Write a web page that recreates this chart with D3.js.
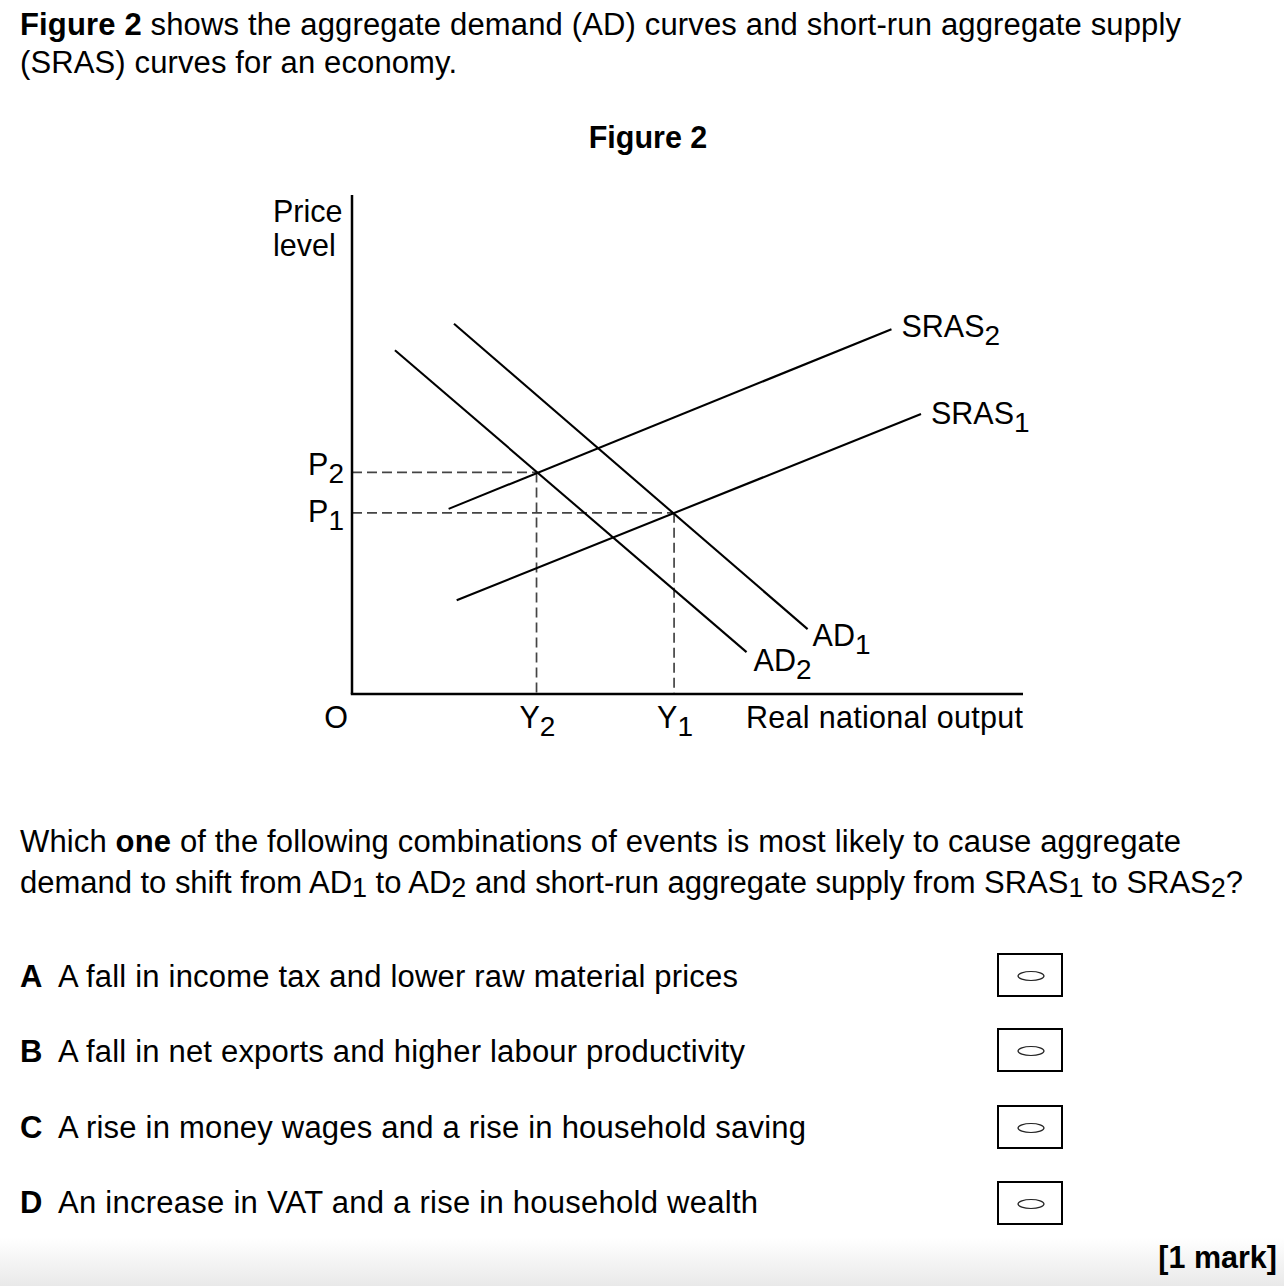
<!DOCTYPE html>
<html>
<head>
<meta charset="utf-8">
<script src="https://cdn.jsdelivr.net/npm/d3@7"></script>
<style>
  html, body { margin: 0; padding: 0; background: #fff; }
  svg { display: block; }
  text { font-family: "Liberation Sans", Arial, Helvetica, sans-serif; fill: #000; }
</style>
</head>
<body>
<script>
// ---------------- DATA ----------------
const curveNames = ["AD", "AD", "SRAS", "SRAS"];
const curveSubs  = ["1", "2", "1", "2"];
const curveX0 = [15.2, 6.4, 15.6, 14.4];
const curveY0 = [74.2, 68.9, 18.8, 37.1];
const curveX1 = [67.9, 58.8, 84.8, 80.4];
const curveY1 = [13.0, 8.4, 56.1, 73.1];

const priceNames  = ["P", "P"];
const priceSubs   = ["1", "2"];
const priceValues = [36.3, 44.4];

const outputNames  = ["Y", "Y"];
const outputSubs   = ["1", "2"];
const outputValues = [48.0, 27.5];

const yAxisTitle = ["Price", "level"];
const xAxisTitle = "Real national output";
const originLabel = "O";
const figureTitle = "Figure 2";

const optionLetters = ["A", "B", "C", "D"];
const optionTexts = [
  "A fall in income tax and lower raw material prices",
  "A fall in net exports and higher labour productivity",
  "A rise in money wages and a rise in household saving",
  "An increase in VAT and a rise in household wealth"
];

// ---------------- LAYOUT ----------------
const W = 1284, H = 1286;
const svg = d3.select("body").append("svg").attr("width", W).attr("height", H);

const defs = svg.append("defs");
const grad = defs.append("linearGradient").attr("id", "bottomGrad")
  .attr("x1", 0).attr("y1", 0).attr("x2", 0).attr("y2", 1);
grad.append("stop").attr("offset", "0%").attr("stop-color", "#ffffff");
grad.append("stop").attr("offset", "100%").attr("stop-color", "#e9e9e9");
svg.append("rect").attr("x", 0).attr("y", 1238).attr("width", W).attr("height", H - 1238)
  .attr("fill", "url(#bottomGrad)");

const FS = 31;

// Header text
const h1 = svg.append("text").attr("x", 20).attr("y", 35).attr("font-size", FS)
  .attr("textLength", 1161).attr("lengthAdjust", "spacing");
h1.append("tspan").attr("font-weight", "bold").text("Figure 2");
h1.append("tspan").text(" shows the aggregate demand (AD) curves and short-run aggregate supply");
svg.append("text").attr("x", 20).attr("y", 73).attr("font-size", FS)
  .attr("textLength", 437).attr("lengthAdjust", "spacing")
  .text("(SRAS) curves for an economy.");

svg.append("text").attr("x", 648).attr("y", 148).attr("font-size", 30.5)
  .attr("font-weight", "bold").attr("text-anchor", "middle")
  .text(figureTitle);

// ---------------- CHART ----------------
const x = d3.scaleLinear().domain([0, 100]).range([352, 1023]);
const y = d3.scaleLinear().domain([0, 100]).range([694, 195]);
const LFS = 30.5, SFS = 28;

// dashed guide lines
const g = svg.append("g");
priceValues.forEach((p, i) => {
  g.append("line")
    .attr("x1", x(0)).attr("x2", x(outputValues[i]))
    .attr("y1", y(p)).attr("y2", y(p))
    .attr("stroke", "#444").attr("stroke-width", 1.7).attr("stroke-dasharray", "10,5");
  g.append("line")
    .attr("x1", x(outputValues[i])).attr("x2", x(outputValues[i]))
    .attr("y1", y(p)).attr("y2", y(0))
    .attr("stroke", "#444").attr("stroke-width", 1.7).attr("stroke-dasharray", "10,5");
});

// curves
curveNames.forEach((n, i) => {
  g.append("line")
    .attr("x1", x(curveX0[i])).attr("y1", y(curveY0[i]))
    .attr("x2", x(curveX1[i])).attr("y2", y(curveY1[i]))
    .attr("stroke", "#000").attr("stroke-width", 2.1);
});

// axes
g.append("line").attr("x1", x(0)).attr("x2", x(0)).attr("y1", y(100)).attr("y2", y(0))
  .attr("stroke", "#000").attr("stroke-width", 2.5);
g.append("line").attr("x1", x(0) - 1.2).attr("x2", x(100)).attr("y1", y(0)).attr("y2", y(0))
  .attr("stroke", "#000").attr("stroke-width", 2.5);

// curve labels (offsets from curve end)
const curveLabelOffsets = [[5, 17], [7, 19], [10, 10], [10, 8]];
curveNames.forEach((n, i) => {
  const t = g.append("text")
    .attr("x", x(curveX1[i]) + curveLabelOffsets[i][0])
    .attr("y", y(curveY1[i]) + curveLabelOffsets[i][1])
    .attr("font-size", LFS);
  t.append("tspan").text(n);
  t.append("tspan").attr("dy", 8).attr("font-size", SFS).text(curveSubs[i]);
});

// price labels
const priceLabelDy = [9, 3];
priceNames.forEach((n, i) => {
  const t = g.append("text").attr("x", x(0) - 8).attr("y", y(priceValues[i]) + priceLabelDy[i])
    .attr("font-size", LFS).attr("text-anchor", "end");
  t.append("tspan").text(n);
  t.append("tspan").attr("dy", 8).attr("font-size", SFS).text(priceSubs[i]);
});

// output labels
outputNames.forEach((n, i) => {
  const t = g.append("text").attr("x", x(outputValues[i]) - 17).attr("y", 728)
    .attr("font-size", LFS);
  t.append("tspan").text(n);
  t.append("tspan").attr("dy", 8).attr("font-size", SFS).text(outputSubs[i]);
});

g.append("text").attr("x", 336).attr("y", 728).attr("font-size", LFS)
  .attr("text-anchor", "middle").text(originLabel);

g.append("text").attr("x", x(100)).attr("y", 728).attr("font-size", LFS)
  .attr("text-anchor", "end").attr("textLength", 277).attr("lengthAdjust", "spacing")
  .text(xAxisTitle);

yAxisTitle.forEach((s, i) => {
  g.append("text").attr("x", 273).attr("y", 222 + i * 34).attr("font-size", LFS).text(s);
});

// ---------------- QUESTION ----------------
const q1 = svg.append("text").attr("x", 20).attr("y", 852).attr("font-size", FS)
  .attr("textLength", 1161).attr("lengthAdjust", "spacing");
q1.append("tspan").text("Which ");
q1.append("tspan").attr("font-weight", "bold").text("one");
q1.append("tspan").text(" of the following combinations of events is most likely to cause aggregate");

const q2parts = [
  ["demand to shift from AD", 0], ["1", 1], [" to AD", 0], ["2", 1],
  [" and short-run aggregate supply from SRAS", 0], ["1", 1], [" to SRAS", 0], ["2", 1], ["?", 0]
];
const q2 = svg.append("text").attr("x", 20).attr("y", 893).attr("font-size", FS)
  .attr("textLength", 1223).attr("lengthAdjust", "spacing");
let prevSub = 0;
q2parts.forEach(([s, sub]) => {
  const ts = q2.append("tspan").text(s);
  if (sub) ts.attr("font-size", 27);
  if (sub && !prevSub) ts.attr("dy", 4);
  if (!sub && prevSub) ts.attr("dy", -4);
  prevSub = sub;
});

// options
const optionBaselines = [987, 1062, 1138, 1213];
const optionEnds = [738, 745, 806, 758];
const boxTops = [954, 1029, 1106, 1182];
optionLetters.forEach((L, i) => {
  svg.append("text").attr("x", 20).attr("y", optionBaselines[i]).attr("font-size", FS)
    .attr("font-weight", "bold").text(L);
  svg.append("text").attr("x", 58).attr("y", optionBaselines[i]).attr("font-size", FS)
    .attr("textLength", optionEnds[i] - 58).attr("lengthAdjust", "spacing")
    .text(optionTexts[i]);
  svg.append("rect").attr("x", 998).attr("y", boxTops[i]).attr("width", 64).attr("height", 42)
    .attr("fill", "none").attr("stroke", "#000").attr("stroke-width", 2);
  svg.append("ellipse").attr("cx", 1031).attr("cy", boxTops[i] + 22).attr("rx", 13).attr("ry", 4.5)
    .attr("fill", "none").attr("stroke", "#222").attr("stroke-width", 1.2);
});

svg.append("text").attr("x", 1277).attr("y", 1268).attr("font-size", 30.5)
  .attr("font-weight", "bold").attr("text-anchor", "end").text("[1 mark]");
</script>
</body>
</html>
